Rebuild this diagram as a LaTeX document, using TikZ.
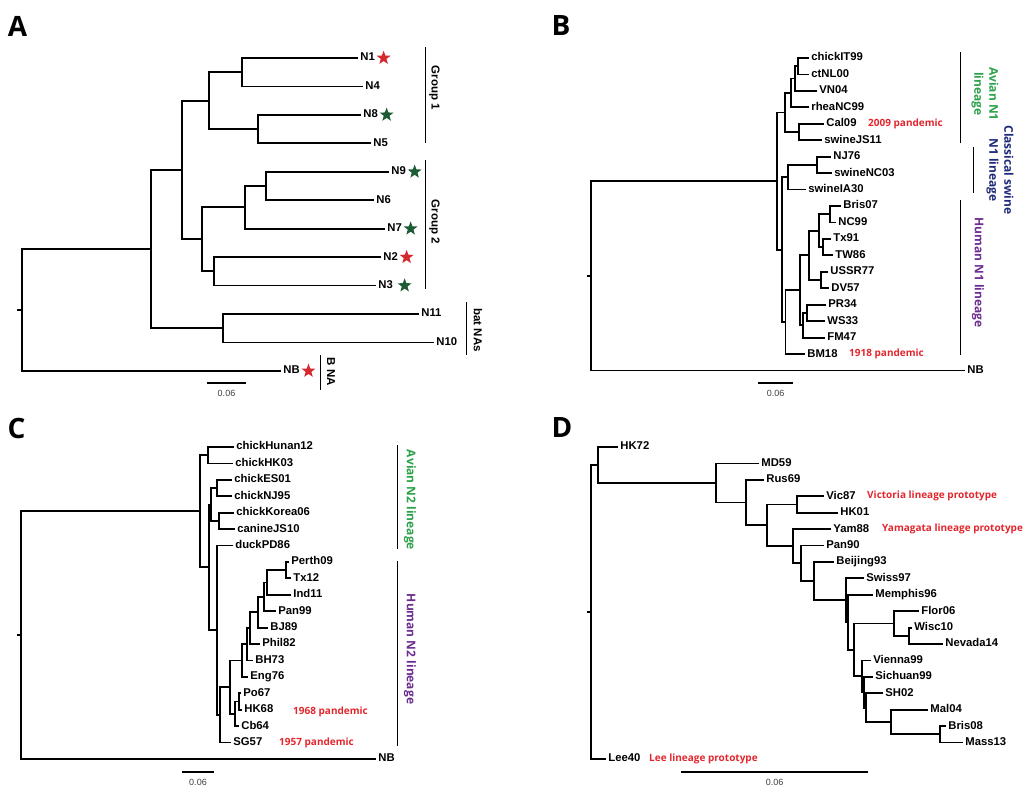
\documentclass[tikz,border=0pt]{standalone}
\usepackage{fontspec}
\setmainfont{Liberation Sans}
\newfontfamily\osans{Open Sans}
\usepackage{tikz}
\usetikzlibrary{positioning,shapes.geometric}
\definecolor{pandemicred}{HTML}{E3262D}
\definecolor{starred}{HTML}{D42A2F}
\definecolor{stargreen}{HTML}{1D5B35}
\definecolor{aviangreen}{HTML}{2BA14A}
\definecolor{swinenavy}{HTML}{1E2A78}
\definecolor{humanpurple}{HTML}{6C2D91}
% leaf: start x, end x, row, label
\newcommand{\leaf}[4]{\draw[br] (#1,#3) -- (#2,#3) node[lf] (\tpfx#4) {#4};}
% clade: parent x, node x, first row, last row
\newcommand{\clade}[4]{\draw[br] (#1,{(#3+#4)/2}) -- (#2,{(#3+#4)/2}) (#2,#3) -- (#2,#4);}
\def\tpfx{a-}

\begin{document}
\begin{tikzpicture}[x=1pt, y=-1pt,
  br/.style={line width=1.8pt, line cap=rect},
  lf/.style={anchor=west, inner xsep=2.5pt, inner ysep=0pt, text height=8.2pt, text depth=2.4pt,
    font=\bfseries\fontsize{11.3}{13}\selectfont},
  pand/.style={anchor=west, inner sep=0pt, text height=7.5pt, text depth=2.2pt, text=pandemicred,
    font=\osans\bfseries\fontsize{10}{12}\selectfont},
  rstar/.style={star, star points=5, star point ratio=2.4, minimum size=14.5pt, inner sep=0pt, fill=starred},
  gstar/.style={rstar, fill=stargreen},
  lbar/.style={line width=1pt},
  grp/.style={rotate=-90, inner sep=0pt, font=\bfseries\fontsize{11.5}{13}\selectfont},
  lin/.style={rotate=-90, inner sep=0pt, align=center, font=\osans\bfseries\fontsize{12}{15}\selectfont},
  sbar/.style={line width=1.4pt},
  scl/.style={inner sep=0pt, text=black!75, font=\fontsize{9}{10}\selectfont},
  plet/.style={inner sep=0pt, font=\osans\bfseries\fontsize{28}{30}\selectfont}]
\useasboundingbox (0,0) rectangle (1024,799);

% Panel letters
\node[plet] (lA) at (17.5,26) {A};
\node[plet] (lB) at (561,26) {B};
\node[plet] (lC) at (16.5,428) {C};
\node[plet] (lD) at (562,428) {D};

% ---------- A ----------
\begin{scope}[yshift=-58pt, y=-28.45pt]
  \def\tpfx{a-}
  \leaf{242}{357}{0}{N1}
  \leaf{242}{362}{1}{N4}
  \leaf{258}{360}{2}{N8}
  \leaf{258}{370}{3}{N5}
  \leaf{266}{388}{4}{N9}
  \leaf{266}{373}{5}{N6}
  \leaf{245}{384}{6}{N7}
  \leaf{214}{380}{7}{N2}
  \leaf{214}{375}{8}{N3}
  \leaf{223}{418}{9}{N11}
  \leaf{223}{433}{10}{N10}
  \leaf{22}{280}{11}{NB}
  \clade{209}{242}{0}{1}
  \clade{209}{258}{2}{3}
  \clade{182}{209}{0.5}{2.5}
  \clade{245}{266}{4}{5}
  \clade{202}{245}{4.5}{6}
  \clade{202}{214}{7}{8}
  \clade{182}{202}{5.25}{7.5}
  \clade{151}{182}{1.5}{6.375}
  \clade{151}{223}{9}{10}
  \clade{22}{151}{3.9375}{9.5}
  \clade{18}{22}{6.71875}{11}
\end{scope}
\node[rstar, right=1pt of a-N1] (sN1) {};
\node[gstar, right=1pt of a-N8] (sN8) {};
\node[gstar, right=1pt of a-N9] (sN9) {};
\node[gstar, right=1pt of a-N7] (sN7) {};
\node[rstar, right=1pt of a-N2] (sN2) {};
\node[gstar, right=4pt of a-N3] (sN3) {};
\node[rstar, right=1pt of a-NB] (sNB) {};
\draw[lbar] (425,47) -- (425,143);
\draw[lbar] (425,160) -- (425,289);
\draw[lbar] (466,302) -- (466,355);
\draw[lbar] (320,355) -- (320,390);
\node[grp] (g1) at (434.5,88) {Group 1};
\node[grp] (g2) at (434.5,222) {Group 2};
\node[grp] (bat) at (478,330) {bat NAs};
\node[grp] (bna) at (331,372) {B NA};
\draw[sbar] (207,383) -- (246,383);
\node[scl] (sa) at (226.5,393) {0.06};

% ---------- B ----------
\begin{scope}[yshift=-58pt, y=-16.45pt]
  \def\tpfx{b-}
  \leaf{798}{808}{0}{chickIT99}
  \leaf{798}{808}{1}{ctNL00}
  \leaf{795}{816}{2}{VN04}
  \leaf{791}{808}{3}{rheaNC99}
  \leaf{799}{823}{4}{Cal09}
  \leaf{799}{821}{5}{swineJS11}
  \leaf{817}{830}{6}{NJ76}
  \leaf{817}{831}{7}{swineNC03}
  \leaf{788}{805}{8}{swineIA30}
  \leaf{830}{840}{9}{Bris07}
  \leaf{830}{835}{10}{NC99}
  \leaf{823}{830}{11}{Tx91}
  \leaf{823}{832}{12}{TW86}
  \leaf{821}{827}{13}{USSR77}
  \leaf{821}{828}{14}{DV57}
  \leaf{807}{825}{15}{PR34}
  \leaf{807}{824}{16}{WS33}
  \leaf{803}{824}{17}{FM47}
  \leaf{785.5}{804}{18}{BM18}
  \leaf{591}{964}{19}{NB}
  \clade{795}{798}{0}{1}
  \clade{791}{795}{0.5}{2}
  \clade{785}{791}{1.25}{3}
  \clade{785}{799}{4}{5}
  \clade{777}{785}{2.125}{4.5}
  \clade{788}{817}{6}{7}
  \clade{782}{788}{6.5}{8}
  \clade{819}{830}{9}{10}
  \clade{819}{823}{11}{12}
  \clade{809}{819}{9.5}{11.5}
  \clade{809}{821}{13}{14}
  \clade{800}{809}{10.5}{13.5}
  \clade{803}{807}{15}{16}
  \clade{800}{803}{15.5}{17}
  \clade{785.5}{800}{12}{16.25}
  \clade{782}{785.5}{14.125}{18}
  \clade{777}{782}{7.25}{16.0625}
  \clade{591}{777}{3.3125}{11.65625}
  \clade{588}{591}{7.484375}{19}
  \node[pand] (p2009) at (868,4) {2009 pandemic};
  \node[pand] (p1918) at (849,18) {1918 pandemic};
\end{scope}
\draw[lbar] (960,52) -- (960,143);
\draw[lbar] (973,147) -- (973,193);
\draw[lbar] (960,200) -- (960,355);
\node[lin, text=aviangreen] (avn1) at (985,94) {Avian N1\\lineage};
\node[lin, text=swinenavy] (csn1) at (1000,170) {Classical swine\\N1 lineage};
\node[lin, text=humanpurple] (hun1) at (978,272.5) {Human N1 lineage};
\draw[sbar] (758,383) -- (793,383);
\node[scl] (sb) at (775.5,393) {0.06};

% ---------- C ----------
\begin{scope}[yshift=-447pt, y=-16.42pt]
  \def\tpfx{c-}
  \leaf{208}{233}{0}{chickHunan12}
  \leaf{208}{232}{1}{chickHK03}
  \leaf{217}{231}{2}{chickES01}
  \leaf{217}{231}{3}{chickNJ95}
  \leaf{219}{233}{4}{chickKorea06}
  \leaf{219}{234}{5}{canineJS10}
  \leaf{217}{232}{6}{duckPD86}
  \leaf{286}{288}{7}{Perth09}
  \leaf{286}{290}{8}{Tx12}
  \leaf{267}{290}{9}{Ind11}
  \leaf{264}{275}{10}{Pan99}
  \leaf{258}{267}{11}{BJ89}
  \leaf{250}{259}{12}{Phil82}
  \leaf{247}{252}{13}{BH73}
  \leaf{242}{247}{14}{Eng76}
  \leaf{239}{240}{15}{Po67}
  \leaf{239}{241}{16}{HK68}
  \leaf{235}{238}{17}{Cb64}
  \leaf{220}{230}{18}{SG57}
  \leaf{21}{375}{19}{NB}
  \clade{200}{208}{0}{1}
  \clade{211}{217}{2}{3}
  \clade{211}{219}{4}{5}
  \clade{209}{211}{2.5}{4.5}
  \clade{267}{286}{7}{8}
  \clade{264}{267}{7.5}{9}
  \clade{258}{264}{8.25}{10}
  \clade{250}{258}{9.125}{11}
  \clade{247}{250}{10.0625}{12}
  \clade{242}{247}{11.03125}{13}
  \clade{230}{242}{12.015625}{14}
  \clade{235}{239}{15}{16}
  \clade{230}{235}{15.5}{17}
  \clade{220}{230}{13.0078125}{16.25}
  \clade{217}{220}{14.62890625}{18}
  \clade{209}{217}{6}{16.314453125}
  \clade{200}{209}{3.5}{11.1572265625}
  \clade{21}{200}{0.5}{7.32861328125}
  \clade{18}{21}{3.914306640625}{19}
  \node[pand] (p1968) at (293,16.1) {1968 pandemic};
  \node[pand] (p1957) at (279,18) {1957 pandemic};
\end{scope}
\draw[lbar] (397,445) -- (397,549);
\draw[lbar] (397,561) -- (397,746);
\node[lin, text=aviangreen] (avn2) at (410,500) {Avian N2 lineage};
\node[lin, text=humanpurple] (hun2) at (410,649) {Human N2 lineage};
\draw[sbar] (182,772) -- (214,772);
\node[scl] (sc) at (198,782) {0.06};

% ---------- D ----------
\begin{scope}[yshift=-447pt, y=-16.42pt]
  \def\tpfx{d-}
  \leaf{598}{617}{0}{HK72}
  \leaf{716}{758}{1}{MD59}
  \leaf{746}{763}{2}{Rus69}
  \leaf{797}{823}{3}{Vic87}
  \leaf{797}{837}{4}{HK01}
  \leaf{793}{830}{5}{Yam88}
  \leaf{801}{823}{6}{Pan90}
  \leaf{814}{833}{7}{Beijing93}
  \leaf{846}{863}{8}{Swiss97}
  \leaf{848}{872}{9}{Memphis96}
  \leaf{894}{918}{10}{Flor06}
  \leaf{909}{911}{11}{Wisc10}
  \leaf{909}{942}{12}{Nevada14}
  \leaf{862}{870}{13}{Vienna99}
  \leaf{864}{872}{14}{Sichuan99}
  \leaf{866}{882}{15}{SH02}
  \leaf{891}{927}{16}{Mal04}
  \leaf{940}{945}{17}{Bris08}
  \leaf{940}{962}{18}{Mass13}
  \leaf{591}{605}{19}{Lee40}
  \clade{891}{940}{17}{18}
  \clade{866}{891}{16}{17.5}
  \clade{864}{866}{15}{16.75}
  \clade{862}{864}{14}{15.875}
  \clade{854}{862}{13}{14.9375}
  \clade{894}{909}{11}{12}
  \clade{854}{894}{10}{11.5}
  \clade{848}{854}{10.75}{13.96875}
  \clade{846}{848}{9}{12.359375}
  \clade{814}{846}{8}{10.6796875}
  \clade{801}{814}{7}{9.33984375}
  \clade{793}{801}{6}{8.169921875}
  \clade{767}{793}{5}{7.0849609375}
  \clade{767}{797}{3}{4}
  \clade{746}{767}{3.5}{6.04248046875}
  \clade{716}{746}{2}{4.771240234375}
  \clade{598}{716}{1}{3.3856201171875}
  \clade{591}{598}{0}{2.19281005859375}
  \clade{588}{591}{1.096405029296875}{19}
  \node[pand] (pvic) at (867,3) {Victoria lineage prototype};
  \node[pand] (pyam) at (882,5) {Yamagata lineage prototype};
  \node[pand] (plee) at (649,19) {Lee lineage prototype};
\end{scope}
\draw[sbar] (681,772) -- (868,772);
\node[scl] (sd) at (774.5,782) {0.06};
\end{tikzpicture}
\end{document}
